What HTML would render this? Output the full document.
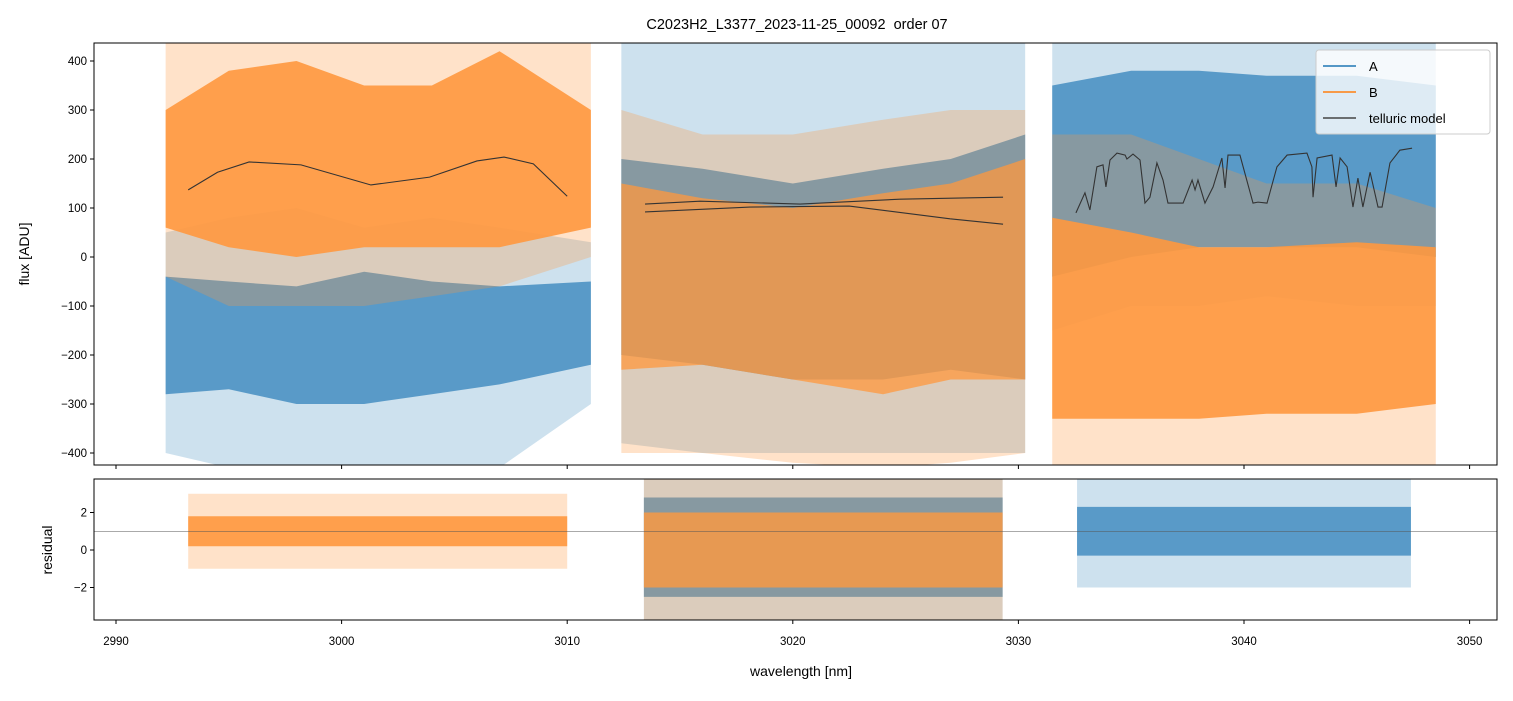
<!DOCTYPE html>
<html><head><meta charset="utf-8"><style>
body{margin:0;background:#fff;}
svg text{font-family:"Liberation Sans",sans-serif;fill:#000;}
</style></head><body>
<svg id="chart" width="1513" height="696" xmlns="http://www.w3.org/2000/svg">
<defs>
<clipPath id="cTop"><rect x="94" y="43" width="1403" height="422"/></clipPath>
<clipPath id="cBot"><rect x="94" y="479" width="1403" height="141"/></clipPath>
</defs>
<rect width="1513" height="696" fill="#fff"/>
<text x="797" y="29" font-size="14.5" text-anchor="middle" style="white-space:pre">C2023H2_L3377_2023-11-25_00092  order 07</text>
<g id="gTop" clip-path="url(#cTop)"></g>
<g id="gBot" clip-path="url(#cBot)"></g>
<g id="axes"></g>
<text transform="translate(29,254) rotate(-90)" font-size="14" text-anchor="middle">flux [ADU]</text>
<text transform="translate(52,550) rotate(-90)" font-size="14" text-anchor="middle">residual</text>
<text x="801" y="676" font-size="14" text-anchor="middle">wavelength [nm]</text>
<g>
<rect x="1316" y="50" width="174" height="84" rx="3" fill="#fff" fill-opacity="0.8" stroke="#ccc"/>
<line x1="1323" y1="66" x2="1356" y2="66" stroke="#1f77b4" stroke-width="1.5"/>
<text x="1369" y="71" font-size="13">A</text>
<line x1="1323" y1="92" x2="1356" y2="92" stroke="#ff7f0e" stroke-width="1.5"/>
<text x="1369" y="97" font-size="13">B</text>
<line x1="1323" y1="118" x2="1356" y2="118" stroke="#444" stroke-width="1.5"/>
<text x="1369" y="123" font-size="13">telluric model</text>
</g>
</svg>
<script>
const NS="http://www.w3.org/2000/svg";
const xTicks=[2990,3000,3010,3020,3030,3040,3050];
const yTicksTop=[-400,-300,-200,-100,0,100,200,300,400];
const yTicksBot=[-2,0,2];
const aSeg1Wl=[2992.2,2995,2998,3001,3004,3007,3011.05];
const aSeg1Hi=[-40,-50,-60,-30,-50,-60,-50];
const aSeg1Lo=[-280,-270,-300,-300,-280,-260,-220];
const aSeg1Hi2=[50,80,100,60,80,60,30];
const aSeg1Lo2=[-400,-430,-430,-430,-430,-430,-300];
const bSeg1Hi=[300,380,400,350,350,420,300];
const bSeg1Lo=[60,20,0,20,20,20,60];
const bSeg1Hi2=[440,440,440,440,440,440,440];
const bSeg1Lo2=[-40,-100,-100,-100,-80,-60,0];
const seg2Wl=[3012.4,3016,3020,3024,3027,3030.3];
const aSeg2Hi=[200,180,150,180,200,250];
const aSeg2Lo=[-200,-220,-250,-250,-230,-250];
const aSeg2Hi2=[440,440,440,440,440,440];
const aSeg2Lo2=[-380,-400,-400,-400,-400,-400];
const bSeg2Hi=[150,120,100,130,150,200];
const bSeg2Lo=[-230,-220,-250,-280,-250,-250];
const bSeg2Hi2=[300,250,250,280,300,300];
const bSeg2Lo2=[-400,-400,-420,-430,-420,-400];
const seg3Wl=[3031.5,3035,3038,3041,3045,3048.5];
const aSeg3Hi=[350,380,380,370,370,350];
const aSeg3Lo=[-40,0,20,20,20,0];
const aSeg3Hi2=[440,440,440,440,440,440];
const aSeg3Lo2=[-150,-100,-100,-80,-100,-100];
const bSeg3Hi=[80,50,20,20,30,20];
const bSeg3Lo=[-330,-330,-330,-320,-320,-300];
const bSeg3Hi2=[250,250,200,150,150,100];
const bSeg3Lo2=[-430,-430,-430,-430,-430,-430];
const tel1Wl=[2993.2,2994.5,2995.9,2998.2,3001.3,3003.9,3006,3007.2,3008.5,3010.0];
const tel1F=[137,173,194,188,147,163,196,204,190,124];
const tel2aWl=[3013.45,3015.89,3020.32,3024.75,3029.32];
const tel2aF=[108,114,108,118,122];
const tel2bWl=[3013.45,3018.1,3022.5,3026.97,3029.32];
const tel2bF=[92,102,104,78,67];
const tel3Wl=[3032.55,3032.95,3033.17,3033.48,3033.75,3033.88,3034.06,3034.37,3034.73,3034.81,3035.08,3035.39,3035.61,3035.83,3036.14,3036.41,3036.63,3037.30,3037.70,3037.83,3037.96,3038.27,3038.63,3039.02,3039.16,3039.29,3039.82,3040.40,3040.62,3041.02,3041.46,3041.91,3042.79,3043.01,3043.06,3043.24,3043.90,3044.08,3044.26,3044.57,3044.83,3045.05,3045.27,3045.59,3045.94,3046.12,3046.47,3046.91,3047.45];
const tel3F=[90,131,96,184,188,143,198,212,208,200,210,198,110,122,192,157,110,110,157,137,157,110,143,202,141,208,208,110,112,110,184,208,212,184,122,202,208,143,202,184,102,161,102,173,102,102,192,218,222];
const rSeg1Wl=[2993.2,3010.0];
const rBHi=[1.8,1.8], rBLo=[0.2,0.2], rBHi2=[3,3], rBLo2=[-1,-1];
const rSeg2Wl=[3013.4,3029.3];
const rA2Hi=[2.8,2.8], rA2Lo=[-2.5,-2.5], rA2Hi2=[3.8,3.8], rA2Lo2=[-3.8,-3.8];
const rB2Hi=[2.0,2.0], rB2Lo=[-2.0,-2.0], rB2Hi2=[3.8,3.8], rB2Lo2=[-3.8,-3.8];
const rSeg3Wl=[3032.6,3047.4];
const rA3Hi=[2.3,2.3], rA3Lo=[-0.3,-0.3], rA3Hi2=[3.8,3.8], rA3Lo2=[-2.0,-2.0];
const residualRef=1;
const X=w=>116+(w-2990)*22.56;
const YT=v=>257-v*0.49;
const YB=v=>550-v*18.75;
const gTop=document.getElementById('gTop'),gBot=document.getElementById('gBot'),gAxes=document.getElementById('axes');
function band(g,wl,hi,lo,Y,color,op,name){
  let d='M'+wl.map((w,i)=>X(w)+','+Y(hi[i])).join('L');
  for(let i=wl.length-1;i>=0;i--)d+='L'+X(wl[i])+','+Y(lo[i]);
  const p=document.createElementNS(NS,'path');
  p.setAttribute('d',d+'Z');p.setAttribute('fill',color);p.setAttribute('fill-opacity',op);
  
  
  g.appendChild(p);
}
function line(g,wl,f,Y,color,w,name){
  const p=document.createElementNS(NS,'path');
  p.setAttribute('d','M'+wl.map((x,i)=>X(x)+','+Y(f[i])).join('L'));
  p.setAttribute('fill','none');p.setAttribute('stroke',color);p.setAttribute('stroke-width',w);
  
  
  g.appendChild(p);
}
const BL='#4c92c3',OR='#ff983e';
band(gTop,aSeg1Wl,aSeg1Hi2,aSeg1Lo2,YT,BL,0.28,'series-a-seg1-extent');
band(gTop,aSeg1Wl,aSeg1Hi,aSeg1Lo,YT,BL,0.9,'series-a-seg1');
band(gTop,seg2Wl,aSeg2Hi2,aSeg2Lo2,YT,BL,0.28,'series-a-seg2-extent');
band(gTop,seg2Wl,aSeg2Hi,aSeg2Lo,YT,BL,0.9,'series-a-seg2');
band(gTop,seg3Wl,aSeg3Hi2,aSeg3Lo2,YT,BL,0.28,'series-a-seg3-extent');
band(gTop,seg3Wl,aSeg3Hi,aSeg3Lo,YT,BL,0.9,'series-a-seg3');
band(gTop,aSeg1Wl,bSeg1Hi2,bSeg1Lo2,YT,OR,0.28,'series-b-seg1-extent');
band(gTop,aSeg1Wl,bSeg1Hi,bSeg1Lo,YT,OR,0.9,'series-b-seg1');
band(gTop,seg2Wl,bSeg2Hi2,bSeg2Lo2,YT,OR,0.28,'series-b-seg2-extent');
band(gTop,seg2Wl,bSeg2Hi,bSeg2Lo,YT,OR,0.75,'series-b-seg2');
band(gTop,seg3Wl,bSeg3Hi2,bSeg3Lo2,YT,OR,0.28,'series-b-seg3-extent');
band(gTop,seg3Wl,bSeg3Hi,bSeg3Lo,YT,OR,0.9,'series-b-seg3');
line(gTop,tel1Wl,tel1F,YT,'#333',1.1,'telluric-seg1');
line(gTop,tel2aWl,tel2aF,YT,'#333',1.1,'telluric-seg2-a');
line(gTop,tel2bWl,tel2bF,YT,'#333',1.1,'telluric-seg2-b');
line(gTop,tel3Wl,tel3F,YT,'#333',1.1,'telluric-seg3');
band(gBot,rSeg1Wl,rBHi2,rBLo2,YB,OR,0.28,'residual-b-seg1-extent');
band(gBot,rSeg1Wl,rBHi,rBLo,YB,OR,0.9,'residual-b-seg1');
band(gBot,rSeg2Wl,rA2Hi2,rA2Lo2,YB,BL,0.28,'residual-a-seg2-extent');
band(gBot,rSeg2Wl,rA2Hi,rA2Lo,YB,BL,0.9,'residual-a-seg2');
band(gBot,rSeg2Wl,rB2Hi2,rB2Lo2,YB,OR,0.28,'residual-b-seg2-extent');
band(gBot,rSeg2Wl,rB2Hi,rB2Lo,YB,OR,0.8,'residual-b-seg2');
band(gBot,rSeg3Wl,rA3Hi2,rA3Lo2,YB,BL,0.28,'residual-a-seg3-extent');
band(gBot,rSeg3Wl,rA3Hi,rA3Lo,YB,BL,0.9,'residual-a-seg3');
line(gBot,[2989,3052],[residualRef,residualRef],YB,'#555',0.6,'residual-reference-line');
function el(tag,attrs,name,txt){const e=document.createElementNS(NS,tag);for(const k in attrs)e.setAttribute(k,attrs[k]);
  
  
  if(txt!==undefined)e.textContent=txt;gAxes.appendChild(e);return e;}
el('rect',{x:94,y:43,width:1403,height:422,fill:'none',stroke:'#000','stroke-width':1},'flux-frame');
el('rect',{x:94,y:479,width:1403,height:141,fill:'none',stroke:'#000','stroke-width':1},'residual-frame');
xTicks.forEach(t=>{
  el('line',{x1:X(t),x2:X(t),y1:465,y2:469,stroke:'#000'},'x-tick-top');
  el('line',{x1:X(t),x2:X(t),y1:620,y2:624,stroke:'#000'},'x-tick');
  el('text',{x:X(t),y:645,'font-size':11.5,'text-anchor':'middle'},'x-tick-label',t);
});
yTicksTop.forEach(t=>{
  el('line',{x1:90,x2:94,y1:YT(t),y2:YT(t),stroke:'#000'},'y-tick-flux');
  el('text',{x:87,y:YT(t)+4,'font-size':11.5,'text-anchor':'end'},'y-tick-label-flux',t<0?'\u2212'+(-t):t);
});
yTicksBot.forEach(t=>{
  el('line',{x1:90,x2:94,y1:YB(t),y2:YB(t),stroke:'#000'},'y-tick-residual');
  el('text',{x:87,y:YB(t)+4,'font-size':11.5,'text-anchor':'end'},'y-tick-label-residual',t<0?'\u2212'+(-t):t);
});
</script>
</body></html>
